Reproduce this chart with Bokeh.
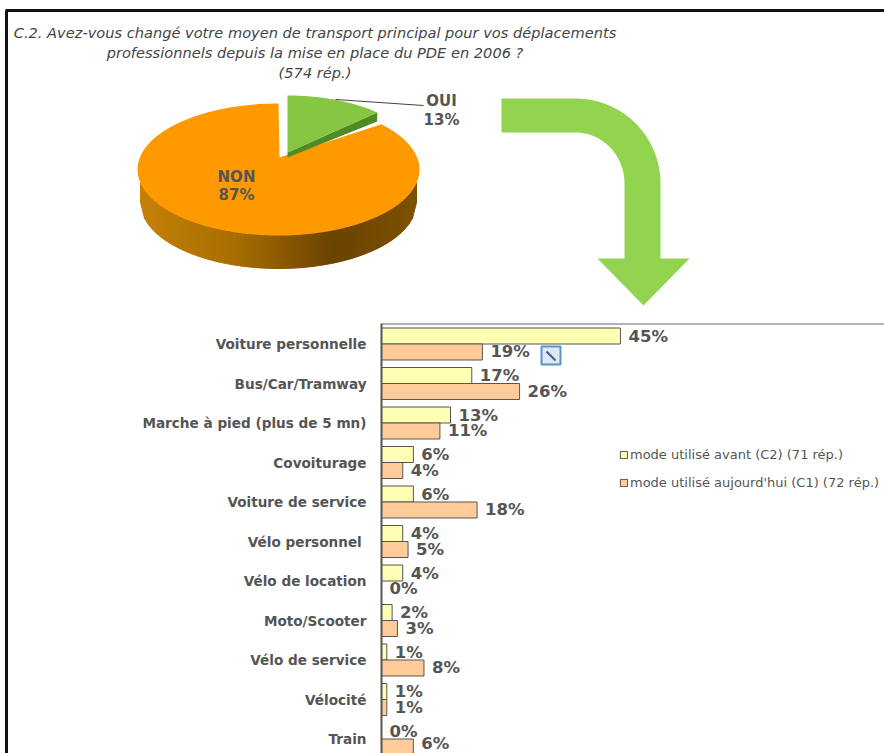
import numpy as np
from bokeh.plotting import figure
from bokeh.models import Range1d, ColumnDataSource, Legend, LegendItem
from bokeh.core.properties import value
from bokeh.embed import file_html
from bokeh.resources import INLINE

title_lines = ["C.2. Avez-vous changé votre moyen de transport principal pour vos déplacements",
               "professionnels depuis la mise en place du PDE en 2006 ?",
               "(574 rép.)"]
pie_labels = ["OUI", "NON"]
pie_values = [13, 87]
categories = ["Voiture personnelle", "Bus/Car/Tramway", "Marche à pied (plus de 5 mn)", "Covoiturage",
              "Voiture de service", "Vélo personnel ", "Vélo de location", "Moto/Scooter",
              "Vélo de service", "Vélocité", "Train"]
avant = [45, 17, 13, 6, 6, 4, 4, 2, 1, 1, 0]
aujourdhui = [19, 26, 11, 4, 18, 5, 0, 3, 8, 1, 6]
legend_labels = ["mode utilisé avant (C2) (71 rép.)", "mode utilisé aujourd'hui (C1) (72 rép.)"]

W, H = 884, 753
GREY = "#555555"
BOLD = value("DejaVu Sans")

p = figure(width=W, height=H, output_backend="svg", toolbar_location=None,
           x_range=Range1d(0, W), y_range=Range1d(H, 0),
           min_border=0, outline_line_color=None, background_fill_color="white")
p.axis.visible = False
p.grid.visible = False

PX_PCT, ZERO_X = 5.31, 381.0
ROW_H, ROW0 = 39.5, 343.5
p.extra_x_ranges["pct"] = Range1d((0 - ZERO_X) / PX_PCT, (W - ZERO_X) / PX_PCT)
p.extra_y_ranges["rows"] = Range1d((H - ROW0) / ROW_H, (0 - ROW0) / ROW_H)

# frame
p.segment([5, 6], [10, 10], [884, 6], [10, 753], line_color="#111111", line_width=3)

# title
p.text([314.5, 314.5, 314.5], [32, 52, 72], text=title_lines, text_font=value("DejaVu Sans"),
       text_font_style="italic", text_font_size="14.6px", text_color="#444444",
       text_align="center", text_baseline="middle")

# pie
oui_end = 2 * np.pi * pie_values[0] / sum(pie_values)
cx, cy, rx, ry = 278.0, 169.0, 141.0, 66.0
depth_cy, depth_rx = 202.0, 138.0

# side wall
xs_edges = np.linspace(cx - depth_rx, cx + depth_rx, 70)
stops_x = [140, 233, 333, 410, 416]
stops = np.array([[198, 128, 8], [169, 110, 0], [107, 67, 0], [124, 80, 0], [124, 80, 0]], float)
side_x, side_y, side_c = [], [], []
for a, b in zip(xs_edges[:-1], xs_edges[1:]):
    m = (a + b) / 2
    col = [int(np.interp(m, stops_x, stops[:, k])) for k in range(3)]
    ta = cy + ry * np.sqrt(max(0, 1 - ((a - cx) / rx) ** 2))
    tb = cy + ry * np.sqrt(max(0, 1 - ((b - cx) / rx) ** 2))
    ba = depth_cy + ry * np.sqrt(max(0, 1 - ((a - cx) / depth_rx) ** 2))
    bb = depth_cy + ry * np.sqrt(max(0, 1 - ((b - cx) / depth_rx) ** 2))
    side_x.append([a, b, b, a])
    side_y.append([ta, tb, bb, ba])
    side_c.append("#%02x%02x%02x" % tuple(col))
p.patches(side_x, side_y, fill_color=side_c, line_color=side_c, line_width=1)

# orange top
th = np.linspace(oui_end, 2 * np.pi, 160)
ox = np.r_[279.0, cx + rx * np.sin(th)]
oy = np.r_[157.0, cy - ry * np.cos(th)]
p.patch(ox, oy, fill_color="#FF9900", line_color=None)

# green slice (pulled out)
gx0, gy0, grx, gry = 287.0, 149.0, 123.0, 54.0
tg = np.linspace(0, oui_end, 40)
tip_x, tip_y = gx0 + grx * np.sin(oui_end), gy0 - gry * np.cos(oui_end)
p.patch([gx0, tip_x, tip_x, gx0], [gy0 + 3, tip_y, tip_y + 9, gy0 + 8],
        fill_color="#4F8A22", line_color=None)
p.patch(np.r_[gx0, gx0 + grx * np.sin(tg)], np.r_[gy0 + 3, gy0 - gry * np.cos(tg)],
        fill_color="#85C742", line_color=None)
p.line([335, 423], [99, 105], line_color="#444444", line_width=1)

p.text([441, 441], [100, 119], text=[pie_labels[0], f"{pie_values[0]}%"], text_font=BOLD,
       text_font_style="bold", text_font_size="15px", text_color=GREY,
       text_align="center", text_baseline="middle")
p.text([236, 236], [176, 194], text=[pie_labels[1], f"{pie_values[1]}%"], text_font=BOLD,
       text_font_style="bold", text_font_size="15px", text_color=GREY,
       text_align="center", text_baseline="middle")

# arrow
acx, acy, ro, rix, riy = 575.0, 183.0, 85.0, 49.0, 51.0
t = np.linspace(0, np.pi / 2, 50)
arr_x = np.r_[501, acx + ro * np.sin(t), 660, 689, 643, 597, 624, acx + rix * np.sin(t[::-1]), 501]
arr_y = np.r_[98, acy - ro * np.cos(t), 258, 258, 305, 258, 258, acy - riy * np.cos(t[::-1]), 132]
p.patch(arr_x, arr_y, fill_color="#92D34F", line_color=None)

# bar chart
rows = np.arange(len(categories))
src = ColumnDataSource(dict(cat=categories, row=rows, y1=rows - 0.2025, y2=rows + 0.2025,
                            avant=avant, auj=aujourdhui,
                            lab1=[f"{v}%" for v in avant], lab2=[f"{v}%" for v in aujourdhui],
                            dy=[-3 if i == len(categories) - 1 else 0 for i in rows]))
kw = dict(x_range_name="pct", y_range_name="rows", source=src)
p.line([381, 884], [323.5, 323.5], line_color="#999999", line_width=1.5)
r1 = p.hbar(y="y1", right="avant", left=0, height=0.405, fill_color="#FFFFB3", line_color=GREY, line_width=1, **kw)
r2 = p.hbar(y="y2", right="auj", left=0, height=0.405, fill_color="#FFCC99", line_color=GREY, line_width=1, **kw)
p.line([381, 381], [323, 753], line_color=GREY, line_width=2)

lab_kw = dict(text_font=BOLD, text_font_style="bold", text_font_size="16.5px", text_color=GREY,
              text_baseline="middle", x_offset=8, **kw)
p.text(x="avant", y="y1", text="lab1", **lab_kw)
p.text(x="auj", y="y2", text="lab2", y_offset="dy", **lab_kw)
p.text(x=0, y="row", text="cat", text_font=BOLD, text_font_style="bold", text_font_size="13.6px",
       text_color=GREY, text_align="right", text_baseline="middle", x_offset=-15, **kw)

# small anchor icon
p.quad(left=[541], right=[560], top=[346], bottom=[364], fill_color="#DCE9F5", line_color="#5B95C7", line_width=2)
p.line([546, 555], [351, 360], line_color="#35608F", line_width=2)

legend = Legend(items=[LegendItem(label=legend_labels[0], renderers=[r1]),
                       LegendItem(label=legend_labels[1], renderers=[r2])],
                location=(619, 263), orientation="vertical", border_line_color=None,
                background_fill_alpha=0, glyph_width=9, glyph_height=9, label_standoff=2,
                spacing=12, padding=4, margin=0, label_text_font="DejaVu Sans",
                label_text_font_size="13px", label_text_color=GREY, label_height=16)
p.add_layout(legend)

open("out.html", "w").write(file_html(p, INLINE))
